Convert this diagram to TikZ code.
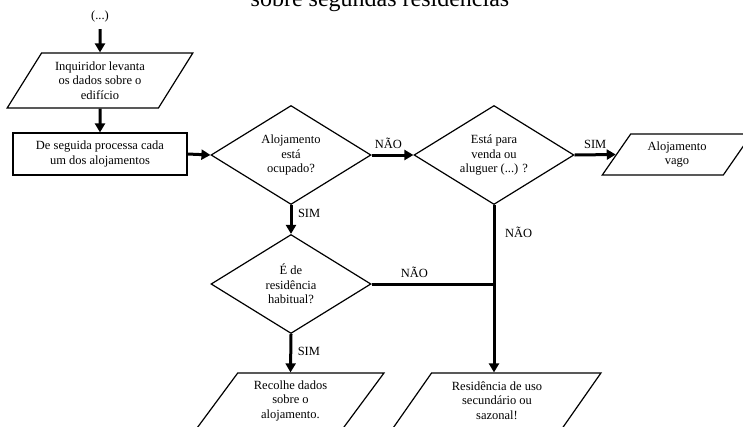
\documentclass[tikz,border=0pt]{standalone}
\usepackage{fontspec}
\setmainfont{Liberation Serif}
\usetikzlibrary{shapes.geometric,arrows.meta,positioning}

\begin{document}
\begin{tikzpicture}[x=1pt,y=-1pt,
  txt/.style={font=\fontsize{12.5}{14.5}\selectfont,align=center},
  decision/.style={draw,line width=1.2pt,diamond,txt,inner sep=0pt,aspect=1.6,
    minimum width=160pt,minimum height=99pt},
  iobox/.style={draw,line width=1.2pt,trapezium,trapezium left angle=55,
    trapezium right angle=125,trapezium stretches=true,txt,inner sep=0pt,
    minimum height=55pt},
  procbox/.style={draw,line width=1.2pt,rectangle,txt,minimum width=174pt,
    minimum height=42pt},
  flow/.style={line width=3pt,-{Triangle[length=9pt,width=10pt]}},
  lbl/.style={font=\fontsize{12.5}{14}\selectfont,inner sep=1.5pt}]

\useasboundingbox (0,0) rectangle (743,426);
\clip (0,0) rectangle (743,426);

% titulo (cortado em cima)
\node[anchor=base,font=\fontsize{24}{28}\selectfont] (title) at (380,6) {sobre segundas residências};

% entrada
\node[txt] (start) at (100,16) {(...)};
\node[iobox,minimum width=186pt] (inq) at (100,80.5) {Inquiridor levanta\\ os dados sobre o\\ edifício};
\node[procbox] (proc) at (100,154) {De seguida processa cada\\ um dos alojamentos};

% decisoes
\node[decision] (ocup) at (291,155) {Alojamento\\ está\\ ocupado?};
\node[decision] (venda) at (494,155) {Está para\\ venda ou\\ aluguer (...) ?};
\node[decision] (habit) at (291,284) {É de\\ residência\\ habitual?};

% saidas
\node[iobox,minimum width=151pt,minimum height=41pt] (vago) at (677,154.5) {Alojamento\\ vago};
\node[iobox,minimum width=187pt] (recolhe) at (290.5,400.5) {Recolhe dados\\ sobre o\\ alojamento.};
\node[iobox,minimum width=208pt] (resid) at (497,400.5) {Residência de uso\\ secundário ou\\ sazonal!};

\coordinate (junc) at (venda.south |- habit.east);

% ligacoes
\draw[flow] (start.south) ++(0,4) -- (inq.north);
\draw[flow] (inq.south) -- (proc.north);
\draw[flow] (proc.east) -- (ocup.west);
\draw[flow] (ocup.east) -- node[lbl,above=3pt,pos=0.4] {NÃO} (venda.west);
\draw[flow] (venda.east) -- node[lbl,above=3pt,pos=0.5] {SIM} (vago.west);
\draw[flow] (ocup.south) -- node[lbl,right=4pt,pos=0.3] {SIM} (habit.north);
\draw[flow] (habit.south) -- node[lbl,right=4pt,pos=0.45] {SIM} (recolhe.north);
\draw[line width=3pt] (habit.east) -- node[lbl,above=3pt,pos=0.35] {NÃO} (junc);
\draw[flow] (venda.south) -- node[lbl,right=8pt,pos=0.16] {NÃO} (venda.south |- resid.north);

\end{tikzpicture}
\end{document}
